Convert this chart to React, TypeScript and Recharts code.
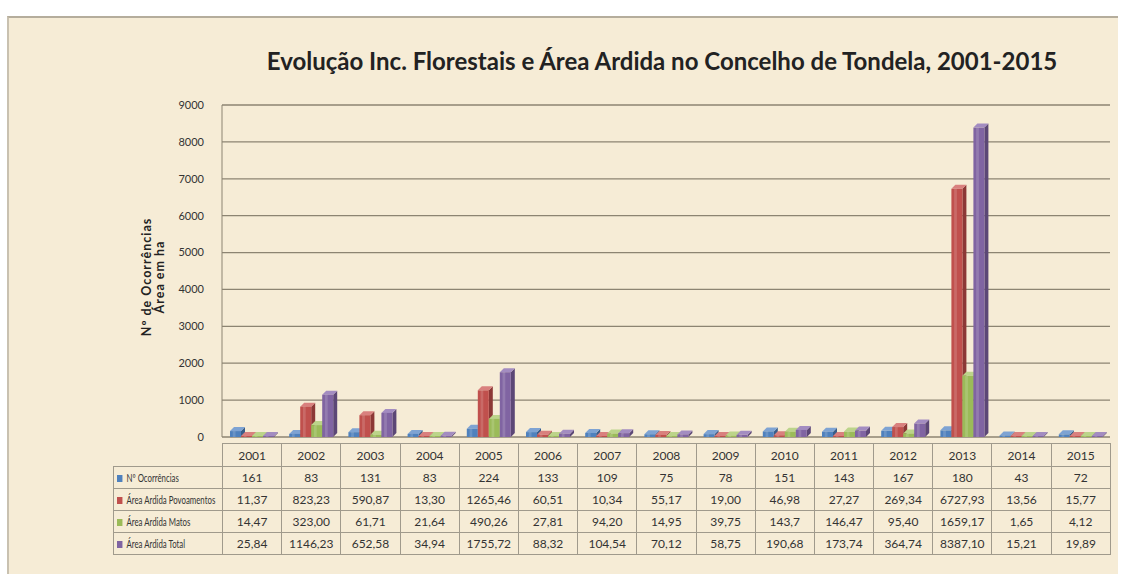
import React from "react";
import { BarChart, Bar, XAxis, YAxis, CartesianGrid } from "recharts";

const years = ["2001", "2002", "2003", "2004", "2005", "2006", "2007", "2008", "2009", "2010", "2011", "2012", "2013", "2014", "2015"];
const ocorrencias = ["161", "83", "131", "83", "224", "133", "109", "75", "78", "151", "143", "167", "180", "43", "72"];
const povoamentos = ["11,37", "823,23", "590,87", "13,30", "1265,46", "60,51", "10,34", "55,17", "19,00", "46,98", "27,27", "269,34", "6727,93", "13,56", "15,77"];
const matos = ["14,47", "323,00", "61,71", "21,64", "490,26", "27,81", "94,20", "14,95", "39,75", "143,7", "146,47", "95,40", "1659,17", "1,65", "4,12"];
const total = ["25,84", "1146,23", "652,58", "34,94", "1755,72", "88,32", "104,54", "70,12", "58,75", "190,68", "173,74", "364,74", "8387,10", "15,21", "19,89"];
const yTicks = [0, 1000, 2000, 3000, 4000, 5000, 6000, 7000, 8000, 9000];

const num = (s: string) => parseFloat(s.replace(",", "."));

const series = [
  { key: "oc", name: "Nº Ocorrências", values: ocorrencias, fill: "#4f81bd", side: "#385d8a", top: "#7ea3d3" },
  { key: "pov", name: "Área Ardida Povoamentos", values: povoamentos, fill: "#c0504d", side: "#8c3836", top: "#d9807e" },
  { key: "mat", name: "Área Ardida Matos", values: matos, fill: "#9bbb59", side: "#71893f", top: "#bcd48a" },
  { key: "tot", name: "Área Ardida Total", values: total, fill: "#8064a2", side: "#5c4776", top: "#a38cc1" },
];

const data = years.map((year, i) => {
  const row: Record<string, string | number> = { year };
  series.forEach((s) => (row[s.key] = num(s.values[i])));
  return row;
});

const W = 1123;
const H = 578;
const plotLeft = 222;
const plotRight = 1110;
const plotTop = 105;
const plotBottom = 437;
const colW = (plotRight - plotLeft) / years.length;

function Bar3D(props: any) {
  const { x, y, width, height, fill, side, top } = props;
  const d = 4;
  const h = Math.max(height, 1);
  const yy = y + height - h;
  return (
    <g>
      <polygon
        points={`${x + width},${yy} ${x + width + d},${yy - d} ${x + width + d},${yy + h - d} ${x + width},${yy + h}`}
        fill={side}
      />
      <polygon points={`${x},${yy} ${x + d},${yy - d} ${x + width + d},${yy - d} ${x + width},${yy}`} fill={top} />
      <rect x={x} y={yy} width={width} height={h} fill={fill} />
      <rect x={x + width * 0.25} y={yy} width={width * 0.25} height={h} fill="#ffffff" opacity={0.15} />
    </g>
  );
}

const cell: React.CSSProperties = {
  border: "1px solid #a09a8c",
  padding: 0,
  textAlign: "center",
  height: 21,
};

export default function App() {
  return (
    <div style={{ position: "absolute", left: 0, top: 0, width: W, height: H, background: "#ffffff", fontFamily: "Lato, sans-serif", overflow: "hidden" }}>
      <div style={{ position: "absolute", left: 7, top: 16, width: 1109, height: 556, background: "#f6ecd6", borderTop: "2px solid #b5ad9c", borderLeft: "2px solid #c9c1b0" }} />
      <div style={{ position: "absolute", left: 0, top: 0 }}>
        <BarChart
          width={W}
          height={H}
          data={data}
          margin={{ top: plotTop, right: W - plotRight, bottom: H - plotBottom, left: plotLeft - 60 }}
          barSize={11}
          barGap={0}
        >
          <CartesianGrid vertical={false} stroke="#8c8472" strokeWidth={1.3} />
          <XAxis dataKey="year" tick={false} height={0} axisLine={{ stroke: "#a09a8c" }} tickLine={false} />
          <YAxis
            width={60}
            domain={[0, 9000]}
            ticks={yTicks}
            interval={0}
            tick={{ fontSize: 11, fill: "#333333" }}
            tickMargin={12}
            tickLine={false}
            axisLine={{ stroke: "#8c8472" }}
          />
          {series.map((s) => (
            <Bar
              key={s.key}
              dataKey={s.key}
              name={s.name}
              fill={s.fill}
              isAnimationActive={false}
              shape={(p: any) => <Bar3D {...p} fill={s.fill} side={s.side} top={s.top} />}
            />
          ))}
        </BarChart>
      </div>
      <div style={{ position: "absolute", left: 0, top: 46, width: 1324, textAlign: "center", fontSize: 24, fontWeight: 700, color: "#222222", whiteSpace: "nowrap" }}>
        Evolução Inc. Florestais e Área Ardida no Concelho de Tondela, 2001-2015
      </div>
      <svg style={{ position: "absolute", left: 0, top: 0 }} width={220} height={440}>
        <g transform="translate(151,277) rotate(-90)" fontSize={12.5} fontWeight={700} fill="#222222" textAnchor="middle" letterSpacing={1}>
          <text x={0} y={0}>Nº de Ocorrências</text>
          <text x={0} y={13}>Área em ha</text>
        </g>
      </svg>
      <table
        style={{
          position: "absolute",
          left: 113,
          top: 443,
          borderCollapse: "collapse",
          tableLayout: "fixed",
          width: plotRight - 113,
          fontSize: 12,
          color: "#333333",
          fontFamily: "Lato, sans-serif",
        }}
      >
        <colgroup>
          <col style={{ width: plotLeft - 113 }} />
          {years.map((y) => (
            <col key={y} style={{ width: colW }} />
          ))}
        </colgroup>
        <tbody>
          <tr>
            <td style={{ ...cell, border: "none", borderRight: "1px solid #a09a8c" }} />
            {years.map((y) => (
              <td key={y} style={{ ...cell, height: 22 }}>
                {y}
              </td>
            ))}
          </tr>
          {series.map((s) => (
            <tr key={s.key}>
              <td style={{ ...cell, textAlign: "left", paddingLeft: 3, whiteSpace: "nowrap", fontSize: 11.5 }}>
                <div style={{ width: 150, whiteSpace: "nowrap", transform: "scaleX(0.68)", transformOrigin: "left center" }}>
                  <span style={{ display: "inline-block", width: 8, height: 7, background: s.fill, marginRight: 6 }} />
                  {s.name}
                </div>
              </td>
              {s.values.map((v, i) => (
                <td key={i} style={cell}>
                  {v}
                </td>
              ))}
            </tr>
          ))}
        </tbody>
      </table>
    </div>
  );
}
